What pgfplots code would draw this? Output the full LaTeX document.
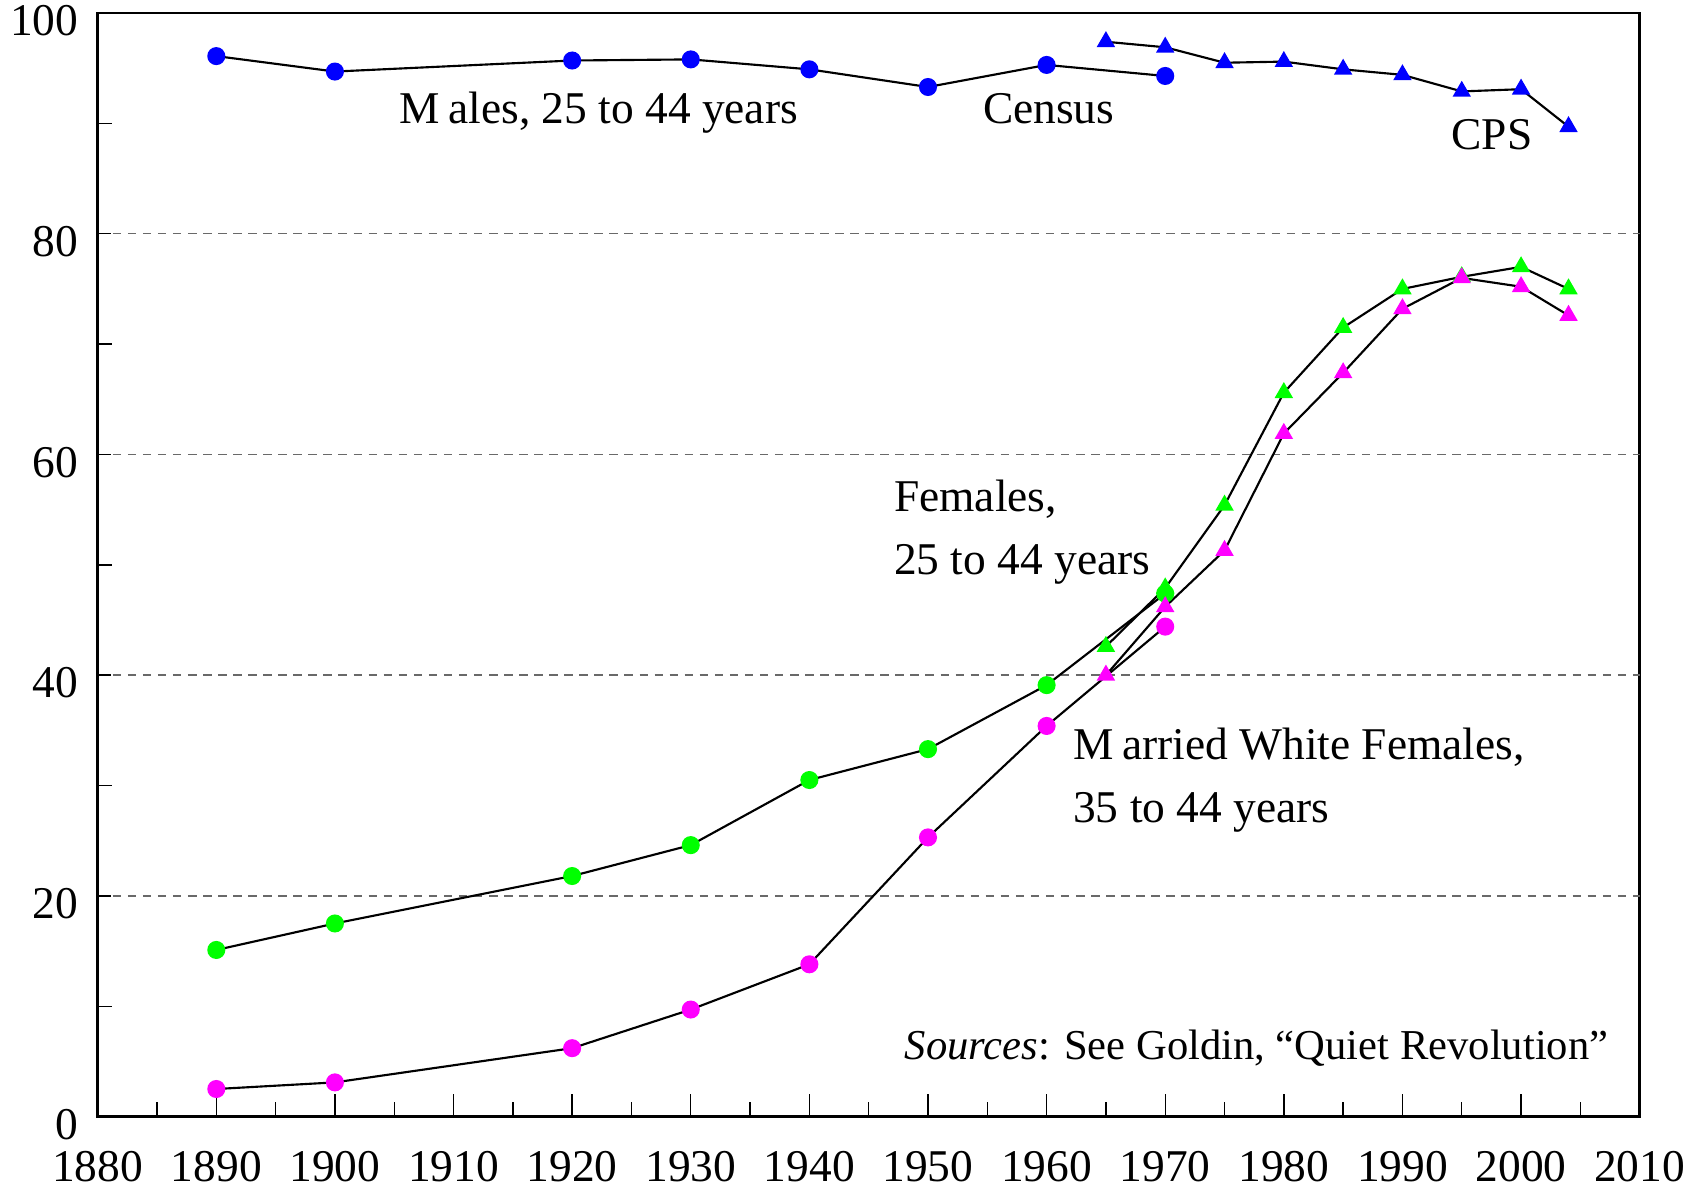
\documentclass[border=0pt]{standalone}
\usepackage{fontspec}
\setmainfont{Liberation Serif}
\usepackage{pgfplots}
\pgfplotsset{compat=1.18}
\definecolor{mblue}{RGB}{0,0,255}
\definecolor{mgreen}{RGB}{0,255,0}
\definecolor{mmag}{RGB}{255,0,255}
\definecolor{gridgray}{RGB}{105,105,105}
\begin{document}
\begin{tikzpicture}
\path[use as bounding box] (-34.4pt,-25.2pt) rectangle (565.3pt,393.2pt);
\begin{axis}[
 at={(0pt,0pt)}, anchor=south west,
 scale only axis, width=543pt, height=388.6pt,
 xmin=1880, xmax=2010, ymin=0, ymax=100,
 xtick={1880,1890,...,2010},
 minor x tick num=1,
 ytick={0,20,...,100},
 minor y tick num=1,
 tick align=inside,
 xtick pos=lower, ytick pos=left,
 major tick length=7.9pt, minor tick length=5pt,
 major y tick style={/pgfplots/major tick length=4.6pt},
 tick style={black, line width=0.5pt},
 axis line style={line width=0.9pt},
 /pgf/number format/assume math mode=true,
 /pgf/number format/1000 sep={},
 ticklabel style={font=\fontsize{16}{19}\selectfont, inner sep=0pt},
 xticklabel style={anchor=north, yshift=-12pt},
 yticklabel style={anchor=east, xshift=-6.6pt, yshift=-2.7pt},
 major grid style={draw=gridgray, line width=0.5pt, dash pattern=on 3pt off 2.3pt},
 extra y ticks={20,40,60,80},
 extra y tick labels={},
 extra y tick style={grid=major, major tick length=0pt},
 clip=false,
]
% Males, Census
\addplot[black, line width=0.75pt, mark=*, mark size=2.8pt, mark options={draw=mblue, fill=mblue}] coordinates {
(1890,96.1) (1900,94.7) (1920,95.7) (1930,95.8) (1940,94.9) (1950,93.3) (1960,95.3) (1970,94.3)};
% Males, CPS
\addplot[black, line width=0.75pt, mark=triangle*, mark size=3pt, mark options={draw=mblue, fill=mblue}] coordinates {
(1965,97.4) (1970,96.9) (1975,95.5) (1980,95.6) (1985,94.9) (1990,94.4) (1995,92.9) (2000,93.1) (2004,89.7)};
% Females, Census
\addplot[black, line width=0.75pt, mark=*, mark size=2.8pt, mark options={draw=mgreen, fill=mgreen}] coordinates {
(1890,15.1) (1900,17.5) (1920,21.8) (1930,24.6) (1940,30.5) (1950,33.3) (1960,39.1) (1970,47.4)};
% Females, CPS
\addplot[black, line width=0.75pt, mark=triangle*, mark size=3pt, mark options={draw=mgreen, fill=mgreen}] coordinates {
(1965,42.6) (1970,47.9) (1975,55.4) (1980,65.6) (1985,71.5) (1990,75.0) (1995,76.1) (2000,77.0) (2004,75.0)};
% Married white females, Census
\addplot[black, line width=0.75pt, mark=*, mark size=2.8pt, mark options={draw=mmag, fill=mmag}] coordinates {
(1890,2.5) (1900,3.1) (1920,6.2) (1930,9.7) (1940,13.8) (1950,25.3) (1960,35.4) (1970,44.4)};
% Married white females, CPS
\addplot[black, line width=0.75pt, mark=triangle*, mark size=3pt, mark options={draw=mmag, fill=mmag}] coordinates {
(1965,40.0) (1970,46.2) (1975,51.3) (1980,61.9) (1985,67.4) (1990,73.2) (1995,76.0) (2000,75.2) (2004,72.6)};

\begin{scope}[every node/.style={anchor=west, inner sep=0pt, font=\fontsize{16}{19}\selectfont}]
\node at (axis cs:1905.4,91.0) {M\kern3pt ales, 25 to 44 years};
\node at (axis cs:1954.6,91.3) {Census};
\node at (axis cs:1994.1,89.0) {CPS};
\node at (axis cs:1947.1,55.9) {Females,};
\node at (axis cs:1947.1,50.0) {25 to 44 years};
\node at (axis cs:1962.2,33.5) {M\kern3pt arried White Females,};
\node at (axis cs:1962.2,27.6) {35 to 44 years};
\node[font=\fontsize{15}{18}\selectfont] at (axis cs:1948.0,6.2) {\textit{Sources}: See Goldin, “Quiet Revolution”};
\end{scope}
\end{axis}
\end{tikzpicture}
\end{document}
